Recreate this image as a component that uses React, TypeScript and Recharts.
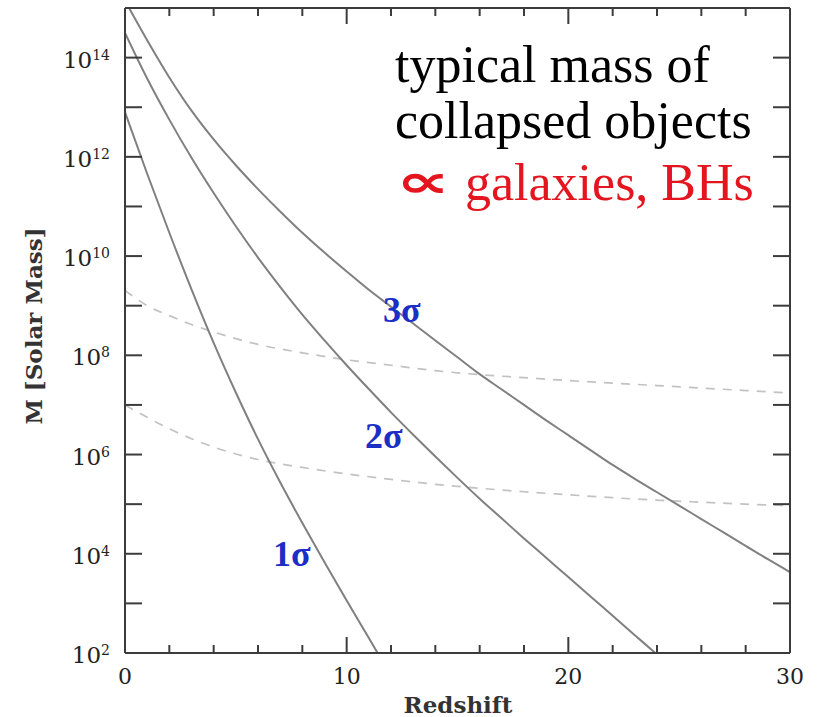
import React from 'react';
import { LineChart, Line, XAxis, YAxis } from 'recharts';

// redshift samples and log10(M / Msun)
const sigma1Z = [0, 1, 2, 3, 4, 5, 6, 7, 8, 9, 10, 11, 11.5];
const sigma1LogM = [12.9, 11.66, 10.47, 9.33, 8.25, 7.25, 6.31, 5.44, 4.62, 3.83, 3.06, 2.3, 1.92];

const sigma2Z = [0, 1, 2, 3, 4, 5, 6, 7, 8, 9, 10, 11, 12, 13, 14, 15, 16, 17, 18, 19, 20, 21, 22, 23, 24];
const sigma2LogM = [
  14.5, 13.58, 12.75, 11.98, 11.27, 10.6, 9.97, 9.38, 8.82, 8.3, 7.8, 7.32, 6.85,
  6.4, 5.96, 5.53, 5.11, 4.71, 4.31, 3.92, 3.53, 3.14, 2.75, 2.36, 1.97,
];

const sigma3Z = [
  0, 1, 2, 3, 4, 5, 6, 7, 8, 9, 10, 11, 12, 13, 14, 15, 16, 17, 18, 19, 20, 21, 22, 23, 24, 25, 26, 27, 28, 29, 30,
];
const sigma3LogM = [
  15.15, 14.35, 13.6, 12.93, 12.35, 11.83, 11.35, 10.9, 10.47, 10.07, 9.69, 9.32, 8.98, 8.64, 8.3, 7.96,
  7.62, 7.31, 7.0, 6.69, 6.39, 6.09, 5.79, 5.51, 5.24, 4.97, 4.7, 4.43, 4.16, 3.89, 3.63,
];

const coolZ = [0, 1, 2, 3, 4, 6, 8, 10, 12, 14, 16, 18, 20, 22, 24, 26, 28, 30];
const coolUpperLogM = [9.31, 9.0, 8.8, 8.62, 8.47, 8.22, 8.05, 7.91, 7.8, 7.69, 7.61, 7.55, 7.49, 7.44, 7.39, 7.34, 7.29, 7.24];
const coolLowerLogM = [7.0, 6.75, 6.52, 6.32, 6.15, 5.9, 5.74, 5.61, 5.5, 5.4, 5.32, 5.25, 5.19, 5.13, 5.08, 5.04, 5.0, 4.97];

const zTicks = [0, 2, 4, 6, 8, 10, 12, 14, 16, 18, 20, 22, 24, 26, 28, 30];
const zLabels = [0, 10, 20, 30];
const massExps = [2, 3, 4, 5, 6, 7, 8, 9, 10, 11, 12, 13, 14, 15];
const massLabelExps = [2, 4, 6, 8, 10, 12, 14];

const massTicks = massExps.map((e) => Math.pow(10, e));
const toSeries = (zs: number[], logs: number[]) => zs.map((z, i) => ({ z, m: Math.pow(10, logs[i]) }));

const AXIS = '#3c3c3c';
const LABEL = '#222';
const TICK_FONT = '"DejaVu Serif", serif';
const MARGIN = 6;

function BottomTick(props: any) {
  const { x, y, payload } = props;
  const axisY = y - MARGIN;
  const major = zLabels.includes(payload.value);
  return (
    <g>
      <line x1={x} x2={x} y1={axisY} y2={axisY - (major ? 16 : 8)} stroke={AXIS} strokeWidth={2} />
      {major && (
        <text x={x} y={axisY + 31} textAnchor="middle" fontFamily={TICK_FONT} fontSize={22} fill={LABEL}>
          {payload.value}
        </text>
      )}
    </g>
  );
}

function TopTick(props: any) {
  const { x, y, payload } = props;
  const axisY = y + MARGIN;
  const major = zLabels.includes(payload.value);
  return <line x1={x} x2={x} y1={axisY} y2={axisY + (major ? 16 : 8)} stroke={AXIS} strokeWidth={2} />;
}

function LeftTick(props: any) {
  const { x, y, payload } = props;
  const axisX = x + MARGIN;
  const exp = Math.round(Math.log10(payload.value));
  return (
    <g>
      <line x1={axisX} x2={axisX + 17} y1={y} y2={y} stroke={AXIS} strokeWidth={2} />
      {massLabelExps.includes(exp) && (
        <text x={axisX - 15} y={y + 10} textAnchor="end" fontFamily={TICK_FONT} fontSize={23} fill={LABEL}>
          10
          <tspan dy={-8} fontSize={14}>
            {exp}
          </tspan>
        </text>
      )}
    </g>
  );
}

function RightTick(props: any) {
  const { x, y } = props;
  const axisX = x - MARGIN;
  return <line x1={axisX - 17} x2={axisX} y1={y} y2={y} stroke={AXIS} strokeWidth={2} />;
}

export default function App() {
  const solid = { stroke: '#808080', strokeWidth: 2, dot: false, isAnimationActive: false, type: 'monotone' as const };
  const dashed = { stroke: '#c2c2c2', strokeWidth: 1.7, strokeDasharray: '9 8', dot: false, isAnimationActive: false, type: 'monotone' as const };

  return (
    <div style={{ position: 'absolute', left: 0, top: 0, width: 823, height: 717, background: '#fff' }}>
      <LineChart width={823} height={717} margin={{ top: 4, right: 29, bottom: 24, left: 65 }}>
        <XAxis xAxisId="b" type="number" dataKey="z" domain={[0, 30]} ticks={zTicks} interval={0}
          tickSize={0} tickMargin={MARGIN} tick={(p: any) => <BottomTick {...p} />} height={40}
          axisLine={{ stroke: AXIS, strokeWidth: 2 }} allowDataOverflow />
        <XAxis xAxisId="t" orientation="top" type="number" dataKey="z" domain={[0, 30]} ticks={zTicks} interval={0}
          tickSize={0} tickMargin={MARGIN} tick={(p: any) => <TopTick {...p} />} height={4}
          axisLine={{ stroke: AXIS, strokeWidth: 2 }} allowDataOverflow />
        <YAxis yAxisId="l" type="number" scale="log" domain={[1e2, 1e15]} ticks={massTicks} interval={0}
          tickSize={0} tickMargin={MARGIN} tick={(p: any) => <LeftTick {...p} />} width={60}
          axisLine={{ stroke: AXIS, strokeWidth: 2 }} allowDataOverflow />
        <YAxis yAxisId="r" orientation="right" type="number" scale="log" domain={[1e2, 1e15]} ticks={massTicks} interval={0}
          tickSize={0} tickMargin={MARGIN} tick={(p: any) => <RightTick {...p} />} width={4}
          axisLine={{ stroke: AXIS, strokeWidth: 2 }} allowDataOverflow />

        <Line xAxisId="t" yAxisId="r" data={toSeries(coolZ, coolUpperLogM)} dataKey="m" {...dashed} />
        <Line xAxisId="b" yAxisId="l" data={toSeries(coolZ, coolLowerLogM)} dataKey="m" {...dashed} />
        <Line xAxisId="b" yAxisId="l" data={toSeries(sigma1Z, sigma1LogM)} dataKey="m" {...solid} />
        <Line xAxisId="b" yAxisId="l" data={toSeries(sigma2Z, sigma2LogM)} dataKey="m" {...solid} />
        <Line xAxisId="b" yAxisId="l" data={toSeries(sigma3Z, sigma3LogM)} dataKey="m" {...solid} />
      </LineChart>

      <svg width={823} height={717} style={{ position: 'absolute', left: 0, top: 0, pointerEvents: 'none' }}>
        <text x={458} y={713} textAnchor="middle" fontFamily={TICK_FONT} fontWeight="bold" fontSize={23} fill="#333">
          Redshift
        </text>
        <text x={42} y={326} textAnchor="middle" transform="rotate(-90 42 326)" fontFamily={TICK_FONT}
          fontWeight="bold" fontSize={23} fill="#333">
          M [Solar Mass]
        </text>

        <g fontFamily='"Liberation Serif", "Times New Roman", serif' fontSize={52}>
          <text x={395} y={82} fill="#000">typical mass of</text>
          <text x={395} y={138} fill="#000">collapsed objects</text>
          <text transform="translate(396 197) scale(1.65 1)" x={0} y={0} fill="#e4151f"
            fontFamily='"DejaVu Sans", sans-serif' fontSize={46} fontWeight="bold">∝</text>
          <text x={465} y={200} fill="#e4151f">galaxies, BHs</text>
        </g>

        <g fontFamily='"Liberation Serif", "Times New Roman", serif' fontWeight="bold" fontSize={36} fill="#1b2ec6">
          <text x={273} y={566}>1σ</text>
          <text x={365} y={448}>2σ</text>
          <text x={383} y={322}>3σ</text>
        </g>
      </svg>
    </div>
  );
}
